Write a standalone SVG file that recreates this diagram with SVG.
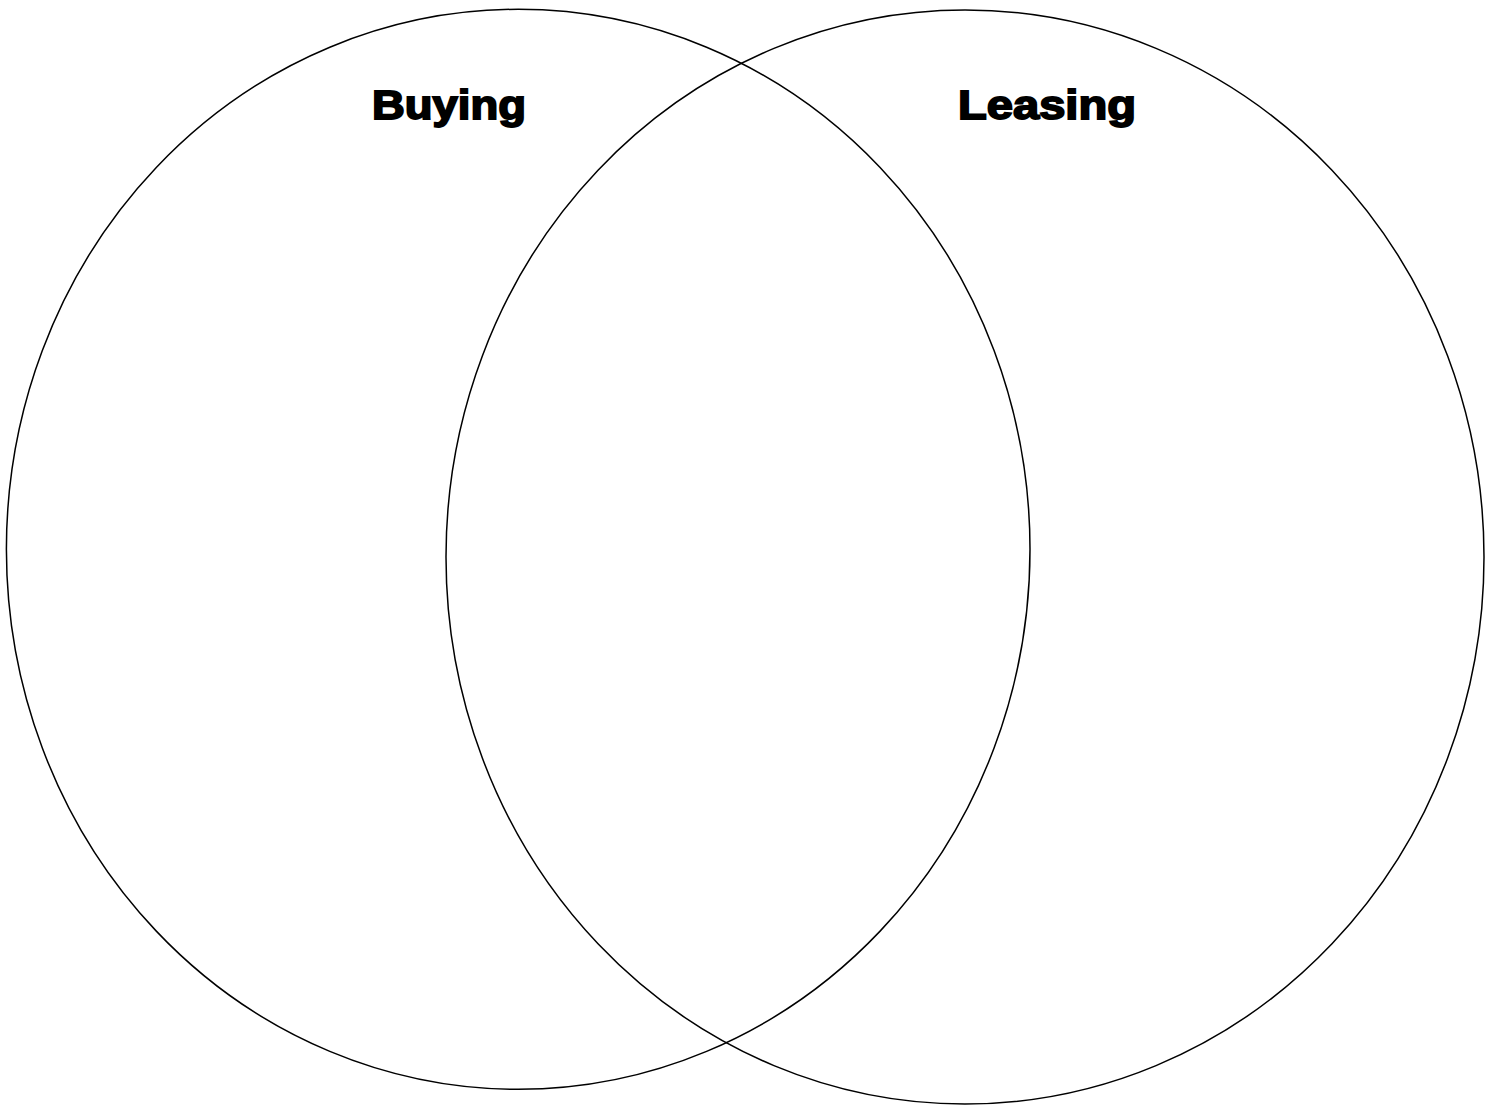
<svg xmlns="http://www.w3.org/2000/svg" width="1494" height="1105" viewBox="0 0 1494 1105">
<style>
.c{fill:none;stroke:#000;stroke-width:1.5}
.t{font-family:"Liberation Sans",Arial,sans-serif;font-weight:bold;font-size:40px;fill:#000;stroke:#000;stroke-width:1.8}
</style>
<rect width="1494" height="1105" fill="#fff"/>
<g id="buying">
<ellipse class="c" cx="518.2" cy="549.3" rx="511.8" ry="540"/>
<text class="t" x="372" y="119" textLength="154" lengthAdjust="spacingAndGlyphs">Buying</text>
</g>
<g id="leasing">
<ellipse class="c" cx="965" cy="557" rx="519" ry="547"/>
<text class="t" x="958" y="119" textLength="178" lengthAdjust="spacingAndGlyphs">Leasing</text>
</g>
<g id="connectors"/>
</svg>
